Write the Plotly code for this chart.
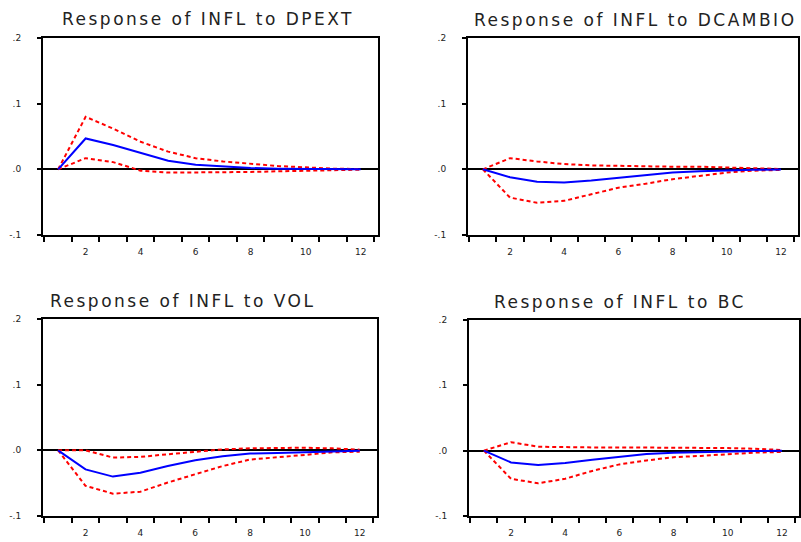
import plotly.graph_objects as go

periods = list(range(1, 13))

titles = ["Response of INFL to DPEXT", "Response of INFL to DCAMBIO",
          "Response of INFL to VOL", "Response of INFL to BC"]

irf_dpext = [0.0, 0.047, 0.037, 0.025, 0.013, 0.007, 0.004, 0.002, 0.001, 0.0005, 0.0002, 0.0001]
up_dpext = [0.0, 0.080, 0.062, 0.042, 0.027, 0.017, 0.012, 0.008, 0.005, 0.003, 0.001, 0.0005]
lo_dpext = [0.0, 0.017, 0.011, -0.002, -0.005, -0.005, -0.005, -0.004, -0.003, -0.002, -0.001, -0.0005]

irf_dcambio = [0.0, -0.012, -0.019, -0.020, -0.017, -0.013, -0.009, -0.005, -0.003, -0.0015, -0.0007, -0.0003]
up_dcambio = [0.0, 0.017, 0.012, 0.008, 0.006, 0.005, 0.005, 0.004, 0.004, 0.003, 0.001, 0.0005]
lo_dcambio = [0.0, -0.043, -0.051, -0.048, -0.038, -0.028, -0.022, -0.015, -0.010, -0.005, -0.002, -0.001]

irf_vol = [0.0, -0.029, -0.040, -0.034, -0.024, -0.015, -0.009, -0.005, -0.004, -0.003, -0.001, -0.0005]
up_vol = [0.0, 0.0, -0.011, -0.010, -0.006, -0.002, 0.0015, 0.003, 0.004, 0.004, 0.003, 0.001]
lo_vol = [0.0, -0.054, -0.066, -0.063, -0.049, -0.036, -0.024, -0.014, -0.011, -0.007, -0.003, -0.002]

irf_bc = [0.0, -0.018, -0.022, -0.019, -0.014, -0.009, -0.005, -0.003, -0.002, -0.001, -0.0005, -0.0002]
up_bc = [0.0, 0.013, 0.006, 0.005, 0.005, 0.005, 0.005, 0.005, 0.005, 0.004, 0.003, 0.001]
lo_bc = [0.0, -0.043, -0.050, -0.043, -0.031, -0.021, -0.015, -0.010, -0.008, -0.005, -0.003, -0.002]

series = [(irf_dpext, up_dpext, lo_dpext), (irf_dcambio, up_dcambio, lo_dcambio),
          (irf_vol, up_vol, lo_vol), (irf_bc, up_bc, lo_bc)]

xtick_vals = [2, 4, 6, 8, 10, 12]
xtick_text = ["2", "4", "6", "8", "10", "12"]
ytick_vals = [-0.1, 0.0, 0.1, 0.2]
ytick_text = ["-.1", ".0", ".1", ".2"]

W, H = 801, 542
# panel frames in pixels: (left, right, top, bottom)
frames = [(43, 378, 38, 235), (468, 798, 38, 235), (43, 377, 319, 516), (469, 799, 320, 516)]
title_pos = [(208, 19), (635, 20), (182, 301), (620, 302)]

fig = go.Figure()
for i, ((irf, up, lo), (l, r, t, b)) in enumerate(zip(series, frames)):
    n = i + 1
    xa = "x" if n == 1 else f"x{n}"
    ya = "y" if n == 1 else f"y{n}"
    for vals in (up, lo):
        fig.add_trace(go.Scatter(x=periods, y=vals, mode="lines", xaxis=xa, yaxis=ya,
                                 line=dict(color="#ff0000", width=2, dash="4px,3px"),
                                 showlegend=False, hoverinfo="skip"))
    fig.add_trace(go.Scatter(x=periods, y=irf, mode="lines", xaxis=xa, yaxis=ya,
                             line=dict(color="#0000ff", width=2),
                             showlegend=False, hoverinfo="skip"))
    xkey = "xaxis" if n == 1 else f"xaxis{n}"
    ykey = "yaxis" if n == 1 else f"yaxis{n}"
    fig.layout[xkey] = dict(
        domain=[l / W, r / W], anchor=ya, range=[0.45, 12.63], automargin=False,
        tickvals=xtick_vals, ticktext=xtick_text, ticks="", showgrid=False,
        showline=True, linecolor="black", linewidth=2, mirror=True, zeroline=False,
        tickfont=dict(family="DejaVu Sans", size=9, color="#222"),
        ticklabelstandoff=7,
        minor=dict(tick0=0.5, dtick=1, ticks="outside", ticklen=5, tickwidth=2,
                   tickcolor="black", showgrid=False),
    )
    fig.layout[ykey] = dict(
        domain=[1 - b / H, 1 - t / H], anchor=xa, range=[-0.1, 0.2], automargin=False,
        tickvals=ytick_vals, ticktext=ytick_text, ticks="outside", ticklen=4,
        tickwidth=2, tickcolor="black", showgrid=False,
        showline=True, linecolor="black", linewidth=2, mirror=True,
        zeroline=True, zerolinecolor="black", zerolinewidth=2,
        tickfont=dict(family="DejaVu Sans", size=9, color="#222"),
        ticklabelstandoff=14,
    )
    tx, ty = title_pos[i]
    fig.add_annotation(text=f'<span style="letter-spacing:2.5px">{titles[i]}</span>',
                       x=tx / W, y=1 - ty / H, xref="paper", yref="paper",
                       showarrow=False, xanchor="center", yanchor="middle",
                       font=dict(family="DejaVu Sans", size=17, color="#222"))

fig.update_layout(width=W, height=H, margin=dict(l=0, r=0, t=0, b=0, autoexpand=False),
                  paper_bgcolor="white", plot_bgcolor="white")
fig.write_html("out.html", config={"displayModeBar": False},
               post_script="document.body.style.margin='0';document.body.style.padding='0';")
